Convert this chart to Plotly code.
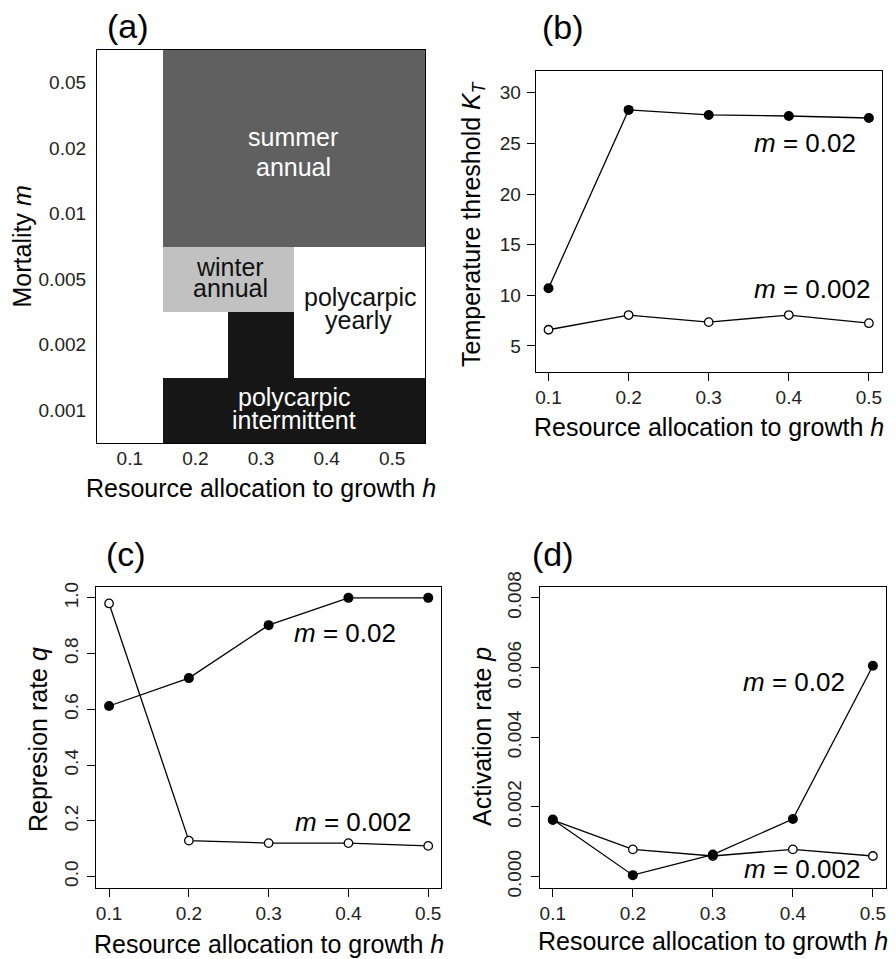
import plotly.graph_objects as go

# ---------------- data ----------------
h_values = [0.1, 0.2, 0.3, 0.4, 0.5]
h_ticks = ["0.1", "0.2", "0.3", "0.4", "0.5"]

# (a) life-history regime for each mortality (rows, low -> high) and h (columns)
mortality_labels = ["0.001", "0.002", "0.005", "0.01", "0.02", "0.05"]
regime_names = ["no reproduction", "summer annual", "winter annual",
                "polycarpic yearly", "polycarpic intermittent"]
regime_colors = ["#ffffff", "#606060", "#c0c1c0", "#ffffff", "#161616"]
regime_grid = [
    [0, 4, 4, 4, 4],   # m = 0.001
    [0, 3, 4, 3, 3],   # m = 0.002
    [0, 2, 2, 3, 3],   # m = 0.005
    [0, 1, 1, 1, 1],   # m = 0.01
    [0, 1, 1, 1, 1],   # m = 0.02
    [0, 1, 1, 1, 1],   # m = 0.05
]

# (b) temperature threshold K_T
kt_m002 = [10.7, 28.3, 27.8, 27.7, 27.5]
kt_m0002 = [6.6, 8.05, 7.35, 8.05, 7.25]

# (c) repression rate q
q_m002 = [0.612, 0.712, 0.902, 1.0, 1.0]
q_m0002 = [0.98, 0.129, 0.12, 0.12, 0.11]

# (d) activation rate p
p_m002 = [0.00164, 0.00004, 0.00063, 0.00165, 0.00605]
p_m0002 = [0.00162, 0.00078, 0.00059, 0.00078, 0.00059]

# ---------------- layout helpers ----------------
W, H = 896, 959
FONT = "Liberation Sans, Arial, Helvetica, sans-serif"
TICK_SIZE = 19
TITLE_SIZE = 25
LETTER_SIZE = 34
REGIME_SIZE = 25
SERIES_SIZE = 26


def fx(px):
    return px / W


def fy(py):
    return 1 - py / H


# pixel frame of panel (a), used to place the regime names in data units
A_LEFT, A_RIGHT, A_TOP, A_BOTTOM = 97, 425, 50, 443
A_XRANGE = [0.05, 0.55]
A_YRANGE = [-0.5, 5.5]


def a_x(px):
    return A_XRANGE[0] + (px - A_LEFT) / (A_RIGHT - A_LEFT) * (A_XRANGE[1] - A_XRANGE[0])


def a_y(py):
    return A_YRANGE[0] + (A_BOTTOM - py) / (A_BOTTOM - A_TOP) * (A_YRANGE[1] - A_YRANGE[0])


fig = go.Figure()

# ---------------- (a) heatmap ----------------
n = len(regime_colors)
scale = []
for i, c in enumerate(regime_colors):
    scale.append([i / n, c])
    scale.append([(i + 1) / n, c])

fig.add_trace(go.Heatmap(
    x=h_values, y=list(range(len(mortality_labels))), z=regime_grid,
    colorscale=scale, zmin=-0.5, zmax=n - 0.5, showscale=False,
    xgap=0, ygap=0, hoverinfo="skip", xaxis="x", yaxis="y",
))


# ---------------- line panels ----------------
def add_pair(xa, ya, low, high):
    fig.add_trace(go.Scatter(
        x=h_values, y=low, mode="lines+markers", xaxis=xa, yaxis=ya,
        line=dict(color="black", width=1.3),
        marker=dict(symbol="circle", size=8.5, color="white",
                    line=dict(color="black", width=1.3)),
        showlegend=False, cliponaxis=False,
    ))
    fig.add_trace(go.Scatter(
        x=h_values, y=high, mode="lines+markers", xaxis=xa, yaxis=ya,
        line=dict(color="black", width=1.3),
        marker=dict(symbol="circle", size=10, color="black",
                    line=dict(color="black", width=0)),
        showlegend=False, cliponaxis=False,
    ))


add_pair("x2", "y2", kt_m0002, kt_m002)
add_pair("x3", "y3", q_m0002, q_m002)
add_pair("x4", "y4", p_m0002, p_m002)

# ---------------- axes ----------------
box = dict(showline=True, linecolor="black", linewidth=1.2, mirror=True,
           showgrid=False, zeroline=False, automargin=False,
           tickfont=dict(family=FONT, size=TICK_SIZE, color="#222"))
xtick = dict(box, tickmode="array", tickvals=h_values, ticktext=h_ticks,
             ticks="outside", ticklen=8, tickwidth=1.2, tickcolor="black",
             range=[0.084, 0.516], ticklabelstandoff=0)
ytick = dict(box, ticks="outside", ticklen=8, tickwidth=1.2, tickcolor="black")

layout = dict(
    width=W, height=H, margin=dict(l=0, r=0, t=0, b=0, pad=0),
    autosize=False,
    paper_bgcolor="white", plot_bgcolor="white", showlegend=False,
    font=dict(family=FONT, color="black"),
    xaxis=dict(box, domain=[fx(A_LEFT), fx(A_RIGHT)], range=A_XRANGE,
               tickmode="array", tickvals=h_values, ticktext=h_ticks,
               ticks="", ticklabelstandoff=-2, anchor="y"),
    yaxis=dict(box, domain=[fy(A_BOTTOM), fy(A_TOP)], range=A_YRANGE,
               tickmode="array", tickvals=list(range(len(mortality_labels))),
               ticktext=mortality_labels, ticks="", ticklabelstandoff=6,
               anchor="x"),
    xaxis2=dict(xtick, domain=[fx(535.7), fx(881.7)], anchor="y2"),
    yaxis2=dict(ytick, domain=[fy(372), fy(70.7)], range=[2.43, 32.17],
                tickmode="array", tickvals=[5, 10, 15, 20, 25, 30],
                anchor="x2", ticklabelstandoff=2),
    xaxis3=dict(xtick, domain=[fx(96.3), fx(441)], anchor="y3"),
    yaxis3=dict(ytick, domain=[fy(887.7), fy(586.7)], range=[-0.04, 1.04],
                tickmode="array", tickvals=[0, 0.2, 0.4, 0.6, 0.8, 1.0],
                tickformat=".1f", tickangle=-90, anchor="x3",
                ticklabelstandoff=2),
    xaxis4=dict(xtick, domain=[fx(540), fx(885.7)], anchor="y4"),
    yaxis4=dict(ytick, domain=[fy(887.7), fy(586.7)],
                range=[-0.00032, 0.00832],
                tickmode="array", tickvals=[0, 0.002, 0.004, 0.006, 0.008],
                tickformat=".3f", tickangle=-90, anchor="x4",
                ticklabelstandoff=2),
)
fig.update_layout(**layout)

ann = []


def paper_text(text, px, py, size, angle=0, color="black"):
    ann.append(dict(text=text, x=fx(px), y=fy(py), xref="paper",
                    yref="paper", showarrow=False, textangle=angle,
                    xanchor="center", yanchor="middle",
                    font=dict(family=FONT, size=size, color=color)))


def data_text(text, xa, ya, x, y, size, color="black", xanchor="center"):
    ann.append(dict(text=text, x=x, y=y, xref=xa, yref=ya, showarrow=False,
                    xanchor=xanchor, yanchor="middle",
                    font=dict(family=FONT, size=size, color=color)))


# panel letters
paper_text("(a)", 128, 26, LETTER_SIZE)
paper_text("(b)", 563, 27, LETTER_SIZE)
paper_text("(c)", 126, 554, LETTER_SIZE)
paper_text("(d)", 553, 554, LETTER_SIZE)

# axis titles
xtitle = "Resource allocation to growth <i>h</i>"
paper_text(xtitle, 261, 488, TITLE_SIZE)
paper_text(xtitle, 709, 427, TITLE_SIZE)
paper_text(xtitle, 269, 944, TITLE_SIZE)
paper_text(xtitle, 713, 941, TITLE_SIZE)
paper_text("Mortality <i>m</i>", 22, 246.5, TITLE_SIZE, angle=-90)
paper_text("Temperature threshold <i>K</i><sub><i>T</i></sub>", 473, 224,
           TITLE_SIZE, angle=-90)
paper_text("Represion rate <i>q</i>", 38, 740, TITLE_SIZE, angle=-90)
paper_text("Activation rate <i>p</i>", 482, 737, TITLE_SIZE, angle=-90)

# regime names in (a), one line each
regime_lines = [
    ("summer", 293, 137, "white"),
    ("annual", 293, 167, "white"),
    ("winter", 230, 267, "#111"),
    ("annual", 230, 288, "#111"),
    ("polycarpic", 360, 297, "#111"),
    ("yearly", 358, 320, "#111"),
    ("polycarpic", 294, 397, "white"),
    ("intermittent", 294, 420, "white"),
]
for word, px, py, col in regime_lines:
    data_text(word, "x", "y", a_x(px), a_y(py), REGIME_SIZE, color=col)

# series labels
data_text("<i>m</i> = 0.02", "x2", "y2", 0.486, 25.0, SERIES_SIZE, xanchor="right")
data_text("<i>m</i> = 0.002", "x2", "y2", 0.504, 10.6, SERIES_SIZE, xanchor="right")
data_text("<i>m</i> = 0.02", "x3", "y3", 0.462, 0.873, SERIES_SIZE, xanchor="right")
data_text("<i>m</i> = 0.002", "x3", "y3", 0.481, 0.197, SERIES_SIZE, xanchor="right")
data_text("<i>m</i> = 0.02", "x4", "y4", 0.4675, 0.005587, SERIES_SIZE,
          xanchor="right")
data_text("<i>m</i> = 0.002", "x4", "y4", 0.4867, 0.00021, SERIES_SIZE,
          xanchor="right")

fig.update_layout(annotations=ann)

fig.write_html("out.html")
